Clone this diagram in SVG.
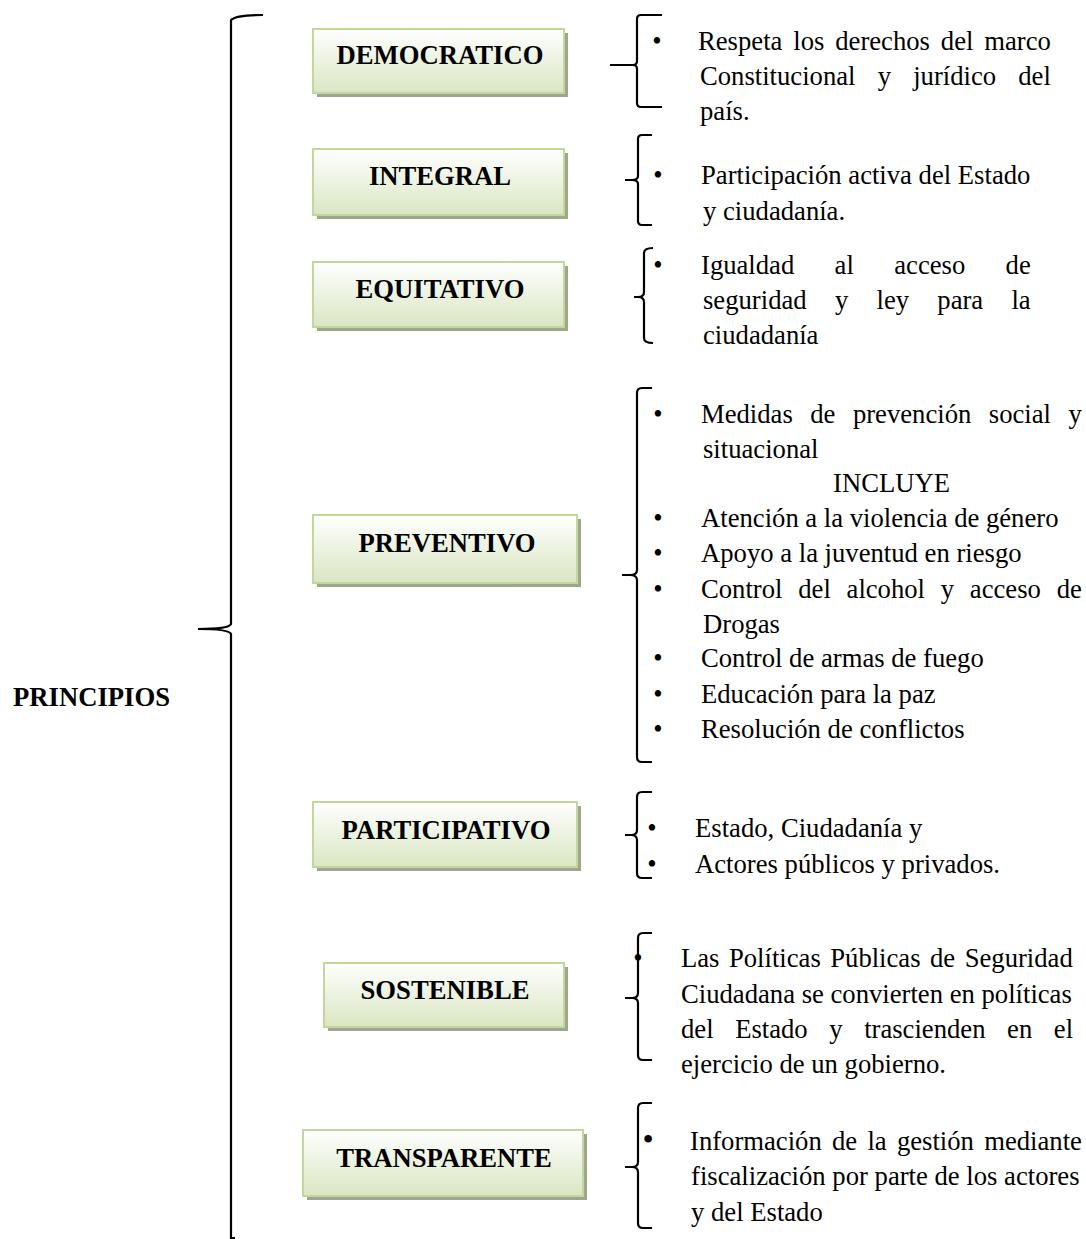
<svg xmlns="http://www.w3.org/2000/svg" width="1086" height="1239" viewBox="0 0 1086 1239">
<defs>
<linearGradient id="gb" x1="0" y1="0" x2="0" y2="1">
<stop offset="0" stop-color="#ffffff"/>
<stop offset="1" stop-color="#d9e6c2"/>
</linearGradient>
</defs>
<style>
text{font-family:"Liberation Serif","Times New Roman",serif;font-size:26.67px;fill:#000}
.lbl{font-weight:bold;text-anchor:middle}
.b{text-anchor:middle}
.box{fill:url(#gb);stroke:#c3d69b;stroke-width:2}
.sh{fill:#9ea68e}
.br{fill:none;stroke:#000;stroke-width:2.2}
</style>
<rect width="1086" height="1239" fill="#fff"/>

<g id="connectors">
<path class="br" d="M263,15 Q236,15 231,20 L231,624 Q229,629 198,629 Q229,629 231,634 L231,1238 L235,1238"/>
<path class="br" d="M662,15 L641,15 Q637,15 637,19 L637,61 Q637,65 633,65 L610,65 L633,65 Q637,65 637,69 L637,103 Q637,107 641,107 L662,107"/>
<path class="br" d="M652,135 L642,135 Q638,135 638,139 L638,176 Q638,180 632,180 L625,180 L632,180 Q638,180 638,184 L638,221 Q638,225 642,225 L652,225"/>
<path class="br" d="M653,248 Q644,248 644,253 L644,292 Q644,297 638,297 L634,297 L638,297 Q644,297 644,302 L644,338 Q644,343 653,343"/>
<path class="br" d="M652,388 L642,388 Q637,388 637,393 L637,570 Q637,575 630,575 L622,575 L630,575 Q637,575 637,580 L637,757 Q637,762 642,762 L652,762"/>
<path class="br" d="M652,792 L642,792 Q637,792 637,797 L637,830 Q637,835 631,835 L625,835 L631,835 Q637,835 637,840 L637,873 Q637,878 642,878 L652,878"/>
<path class="br" d="M652,933 L643,933 Q638,933 638,938 L638,993 Q638,998 632,998 L625,998 L632,998 Q638,998 638,1003 L638,1055 Q638,1060 643,1060 L652,1060"/>
<path class="br" d="M652,1103 L643,1103 Q638,1103 638,1108 L638,1162 Q638,1167 632,1167 L625,1167 L632,1167 Q638,1167 638,1172 L638,1223 Q638,1228 643,1228 L652,1228"/>
</g>

<g id="principios">
<text x="13" y="706" font-weight="bold">PRINCIPIOS</text>
</g>

<g id="democratico">
<rect class="sh" x="317" y="33" width="251" height="64"/>
<rect class="box" x="313" y="29" width="251" height="64"/>
<text class="lbl" x="440" y="64">DEMOCRATICO</text>
</g>
<g id="integral">
<rect class="sh" x="317" y="153" width="251" height="66"/>
<rect class="box" x="313" y="149" width="251" height="66"/>
<text class="lbl" x="440" y="185">INTEGRAL</text>
</g>
<g id="equitativo">
<rect class="sh" x="317" y="266" width="251" height="65"/>
<rect class="box" x="313" y="262" width="251" height="65"/>
<text class="lbl" x="440" y="298">EQUITATIVO</text>
</g>
<g id="preventivo">
<rect class="sh" x="317" y="519" width="264" height="68"/>
<rect class="box" x="313" y="515" width="264" height="68"/>
<text class="lbl" x="447" y="552">PREVENTIVO</text>
</g>
<g id="participativo">
<rect class="sh" x="317" y="806" width="264" height="65"/>
<rect class="box" x="313" y="802" width="264" height="65"/>
<text class="lbl" x="446" y="839">PARTICIPATIVO</text>
</g>
<g id="sostenible">
<rect class="sh" x="328" y="967" width="240" height="64"/>
<rect class="box" x="324" y="963" width="240" height="64"/>
<text class="lbl" x="445" y="999">SOSTENIBLE</text>
</g>
<g id="transparente">
<rect class="sh" x="307" y="1134" width="280" height="66"/>
<rect class="box" x="303" y="1130" width="280" height="66"/>
<text class="lbl" x="444" y="1167">TRANSPARENTE</text>
</g>

<g id="desc-democratico">
<text class="b" x="657" y="50">•</text>
<text x="698" y="50" style="word-spacing:4.2px">Respeta los derechos del marco</text>
<text x="700" y="85" style="word-spacing:15.5px">Constitucional y jurídico del</text>
<text x="700" y="120">país.</text>
</g>
<g id="desc-integral">
<text class="b" x="658" y="184">•</text>
<text x="701" y="184">Participación activa del Estado</text>
<text x="703" y="220">y ciudadanía.</text>
</g>
<g id="desc-equitativo">
<text class="b" x="658" y="274">•</text>
<text x="701" y="274" style="word-spacing:33.7px">Igualdad al acceso de</text>
<text x="703" y="309" style="word-spacing:21.6px">seguridad y ley para la</text>
<text x="703" y="344">ciudadanía</text>
</g>
<g id="desc-preventivo">
<text class="b" x="658" y="423">•</text>
<text x="701" y="423" style="word-spacing:10.8px">Medidas de prevención social y</text>
<text x="703" y="458">situacional</text>
<text x="833" y="492">INCLUYE</text>
<text class="b" x="658" y="527">•</text>
<text x="701" y="527">Atención a la violencia de género</text>
<text class="b" x="658" y="562">•</text>
<text x="701" y="562">Apoyo a la juventud en riesgo</text>
<text class="b" x="658" y="598">•</text>
<text x="701" y="598" style="word-spacing:9.1px">Control del alcohol y acceso de</text>
<text x="703" y="633">Drogas</text>
<text class="b" x="658" y="667">•</text>
<text x="701" y="667">Control de armas de fuego</text>
<text class="b" x="658" y="703">•</text>
<text x="701" y="703">Educación para la paz</text>
<text class="b" x="658" y="738">•</text>
<text x="701" y="738">Resolución de conflictos</text>
</g>
<g id="desc-participativo">
<text class="b" x="652" y="837">•</text>
<text x="695" y="837">Estado, Ciudadanía y</text>
<text class="b" x="652" y="873">•</text>
<text x="695" y="873">Actores públicos y privados.</text>
</g>
<g id="desc-sostenible">
<text class="b" x="638" y="967">•</text>
<text x="681" y="967" style="word-spacing:2.8px">Las Políticas Públicas de Seguridad</text>
<text x="681" y="1003">Ciudadana se convierten en políticas</text>
<text x="681" y="1038" style="word-spacing:14.9px">del Estado y trascienden en el</text>
<text x="681" y="1073">ejercicio de un gobierno.</text>
</g>
<g id="desc-transparente">
<text class="b" x="648" y="1150" style="font-size:32px">•</text>
<text x="690" y="1150" style="word-spacing:3.6px">Información de la gestión mediante</text>
<text x="691" y="1185">fiscalización por parte de los actores</text>
<text x="691" y="1221">y del Estado</text>
</g>
</svg>
